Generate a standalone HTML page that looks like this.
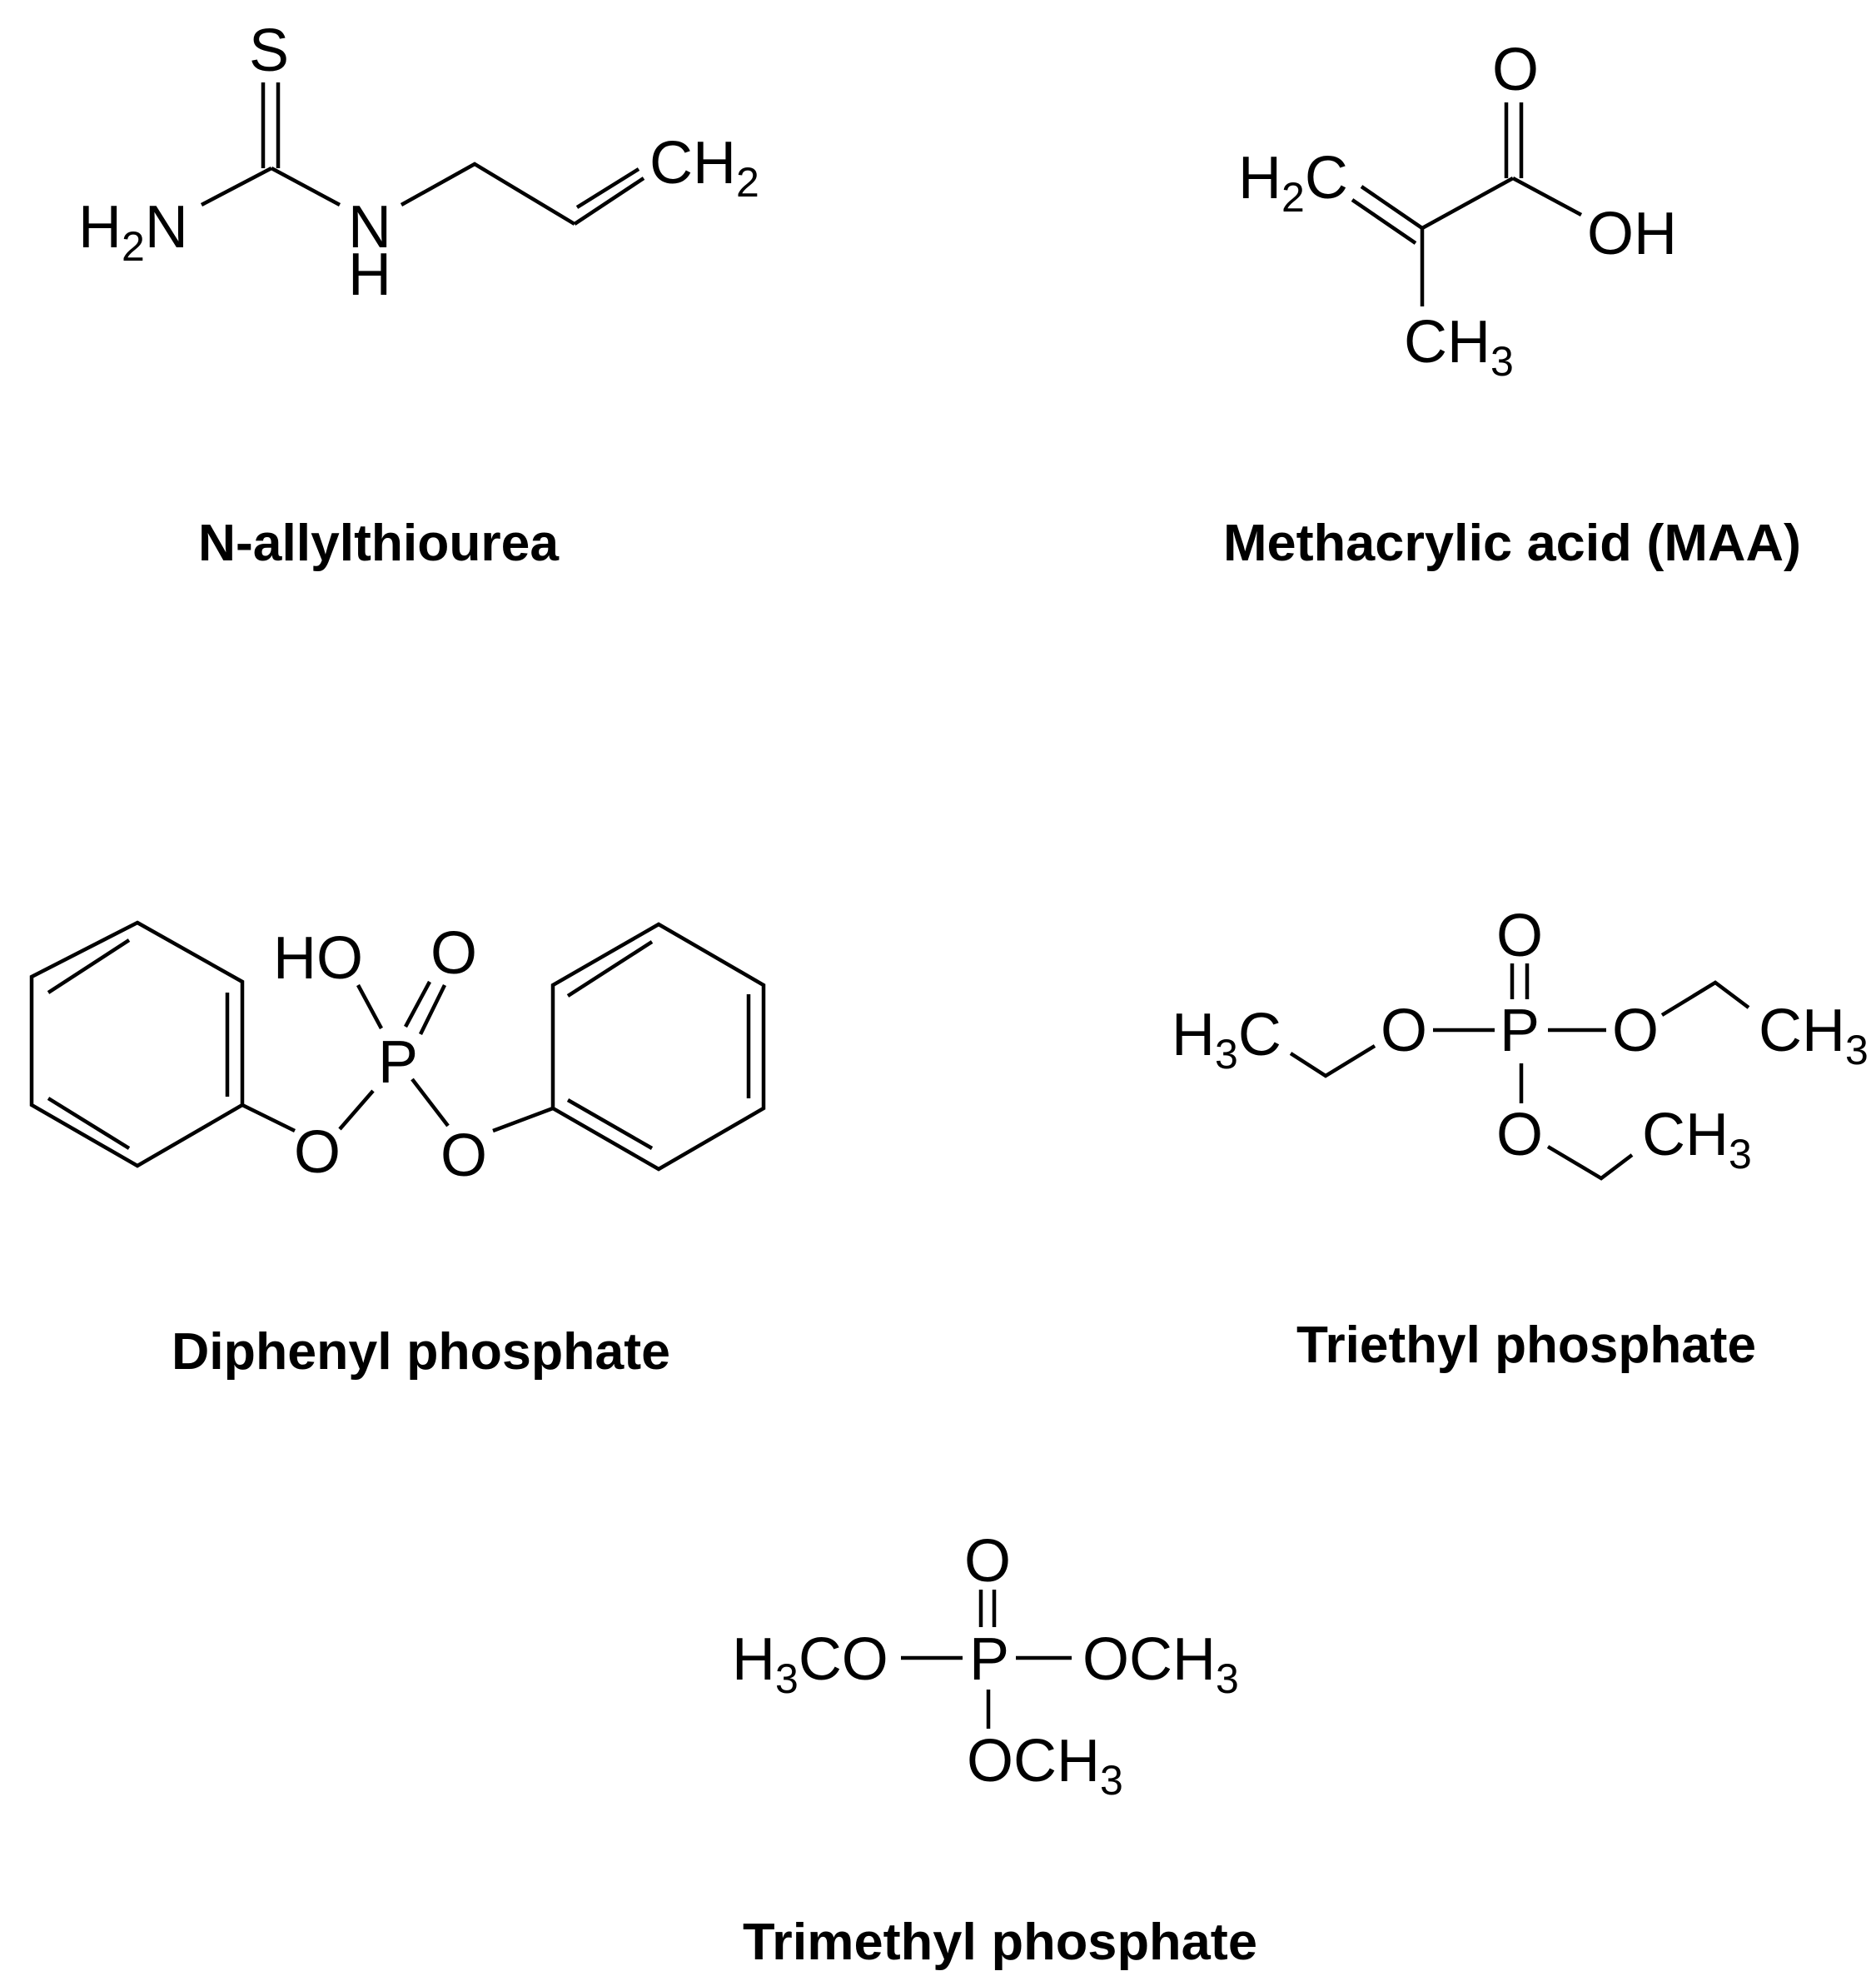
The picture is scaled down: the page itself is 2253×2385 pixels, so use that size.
<!DOCTYPE html>
<html><head><meta charset="utf-8"><style>
html,body{margin:0;padding:0;background:#fff;}
svg{display:block;}
text{font-family:"Liberation Sans",Arial,sans-serif;fill:#000;}
.a{font-size:72px;}
.s{font-size:50px;}
.l{font-size:62px;font-weight:bold;}
line,polyline,polygon{stroke:#000;stroke-width:4.5;fill:none;stroke-linecap:butt;stroke-linejoin:miter;}
</style></head><body>
<svg width="2253" height="2385" viewBox="0 0 2253 2385" xmlns="http://www.w3.org/2000/svg">
<rect width="2253" height="2385" fill="#fff"/>

<!-- N-allylthiourea -->
<text class="a" x="323" y="85" text-anchor="middle">S</text>
<line x1="316" y1="99" x2="316" y2="202"/>
<line x1="334" y1="99" x2="334" y2="202"/>
<line x1="326" y1="202" x2="242" y2="246"/>
<line x1="326" y1="202" x2="408" y2="246"/>
<text class="a" x="94" y="297">H<tspan class="s" dy="16">2</tspan><tspan dy="-16">N</tspan></text>
<text class="a" x="444" y="297" text-anchor="middle">N</text>
<text class="a" x="444" y="354" text-anchor="middle">H</text>
<polyline points="482,246 570,197 690,269"/>
<line x1="690" y1="269" x2="773" y2="214"/>
<line x1="693" y1="249" x2="767" y2="203"/>
<text class="a" x="780" y="220">CH<tspan class="s" dy="16">2</tspan></text>
<text class="l" x="238" y="673" textLength="433" lengthAdjust="spacingAndGlyphs">N-allylthiourea</text>

<!-- Methacrylic acid -->
<text class="a" x="1820" y="108" text-anchor="middle">O</text>
<line x1="1809" y1="123" x2="1809" y2="214"/>
<line x1="1827" y1="123" x2="1827" y2="214"/>
<line x1="1817" y1="214" x2="1899" y2="258"/>
<text class="a" x="1906" y="305">OH</text>
<line x1="1817" y1="214" x2="1708" y2="274"/>
<line x1="1708" y1="274" x2="1635" y2="224"/>
<line x1="1700" y1="292" x2="1624" y2="240"/>
<text class="a" x="1487" y="238">H<tspan class="s" dy="16">2</tspan><tspan dy="-16">C</tspan></text>
<line x1="1708" y1="274" x2="1708" y2="368"/>
<text class="a" x="1686" y="435">CH<tspan class="s" dy="16">3</tspan></text>
<text class="l" x="1469" y="673" textLength="694" lengthAdjust="spacingAndGlyphs">Methacrylic acid (MAA)</text>

<!-- Diphenyl phosphate -->
<polygon points="165,1108 291,1179 291,1327 165,1400 38,1327 38,1173"/>
<line x1="58" y1="1192" x2="155" y2="1129"/>
<line x1="273" y1="1192" x2="273" y2="1317"/>
<line x1="58" y1="1319" x2="155" y2="1379"/>
<line x1="291" y1="1327" x2="354" y2="1358"/>
<text class="a" x="381" y="1408" text-anchor="middle">O</text>
<line x1="408" y1="1356" x2="448" y2="1310"/>
<text class="a" x="478" y="1300" text-anchor="middle">P</text>
<text class="a" x="328" y="1175">HO</text>
<line x1="430" y1="1183" x2="458" y2="1235"/>
<text class="a" x="545" y="1169" text-anchor="middle">O</text>
<line x1="487" y1="1233" x2="516" y2="1179"/>
<line x1="505" y1="1242" x2="534" y2="1183"/>
<line x1="495" y1="1296" x2="538" y2="1352"/>
<text class="a" x="557" y="1412" text-anchor="middle">O</text>
<line x1="592" y1="1358" x2="664" y2="1331"/>
<polygon points="664,1331 664,1183 791,1110 917,1183 917,1331 791,1404"/>
<line x1="682" y1="1196" x2="783" y2="1131"/>
<line x1="899" y1="1194" x2="899" y2="1319"/>
<line x1="682" y1="1321" x2="783" y2="1379"/>
<text class="l" x="206" y="1644" textLength="599" lengthAdjust="spacingAndGlyphs">Diphenyl phosphate</text>

<!-- Triethyl phosphate -->
<text class="a" x="1825" y="1148" text-anchor="middle">O</text>
<line x1="1816" y1="1157" x2="1816" y2="1200"/>
<line x1="1834" y1="1157" x2="1834" y2="1200"/>
<text class="a" x="1825" y="1262" text-anchor="middle">P</text>
<line x1="1721" y1="1237" x2="1795" y2="1237"/>
<text class="a" x="1686" y="1262" text-anchor="middle">O</text>
<text class="a" x="1407" y="1267">H<tspan class="s" dy="16">3</tspan><tspan dy="-16">C</tspan></text>
<polyline points="1550,1265 1592,1292 1651,1256"/>
<line x1="1859" y1="1237" x2="1929" y2="1237"/>
<text class="a" x="1964" y="1262" text-anchor="middle">O</text>
<polyline points="1996,1219 2060,1180 2100,1210"/>
<text class="a" x="2112" y="1262">CH<tspan class="s" dy="16">3</tspan></text>
<line x1="1827" y1="1277" x2="1827" y2="1325"/>
<text class="a" x="1825" y="1387" text-anchor="middle">O</text>
<polyline points="1859,1377 1923,1415 1960,1387"/>
<text class="a" x="1972" y="1387">CH<tspan class="s" dy="16">3</tspan></text>
<text class="l" x="1557" y="1636" textLength="552" lengthAdjust="spacingAndGlyphs">Triethyl phosphate</text>

<!-- Trimethyl phosphate -->
<text class="a" x="1186" y="1899" text-anchor="middle">O</text>
<line x1="1178" y1="1909" x2="1178" y2="1954"/>
<line x1="1194" y1="1909" x2="1194" y2="1954"/>
<text class="a" x="879" y="2017">H<tspan class="s" dy="16">3</tspan><tspan dy="-16">CO</tspan></text>
<line x1="1082" y1="1991" x2="1156" y2="1991"/>
<text class="a" x="1188" y="2017" text-anchor="middle">P</text>
<line x1="1220" y1="1991" x2="1287" y2="1991"/>
<text class="a" x="1300" y="2017">OCH<tspan class="s" dy="16">3</tspan></text>
<line x1="1187" y1="2029" x2="1187" y2="2076"/>
<text class="a" x="1161" y="2139">OCH<tspan class="s" dy="16">3</tspan></text>
<text class="l" x="892" y="2353" textLength="618" lengthAdjust="spacingAndGlyphs">Trimethyl phosphate</text>
</svg>
</body></html>
